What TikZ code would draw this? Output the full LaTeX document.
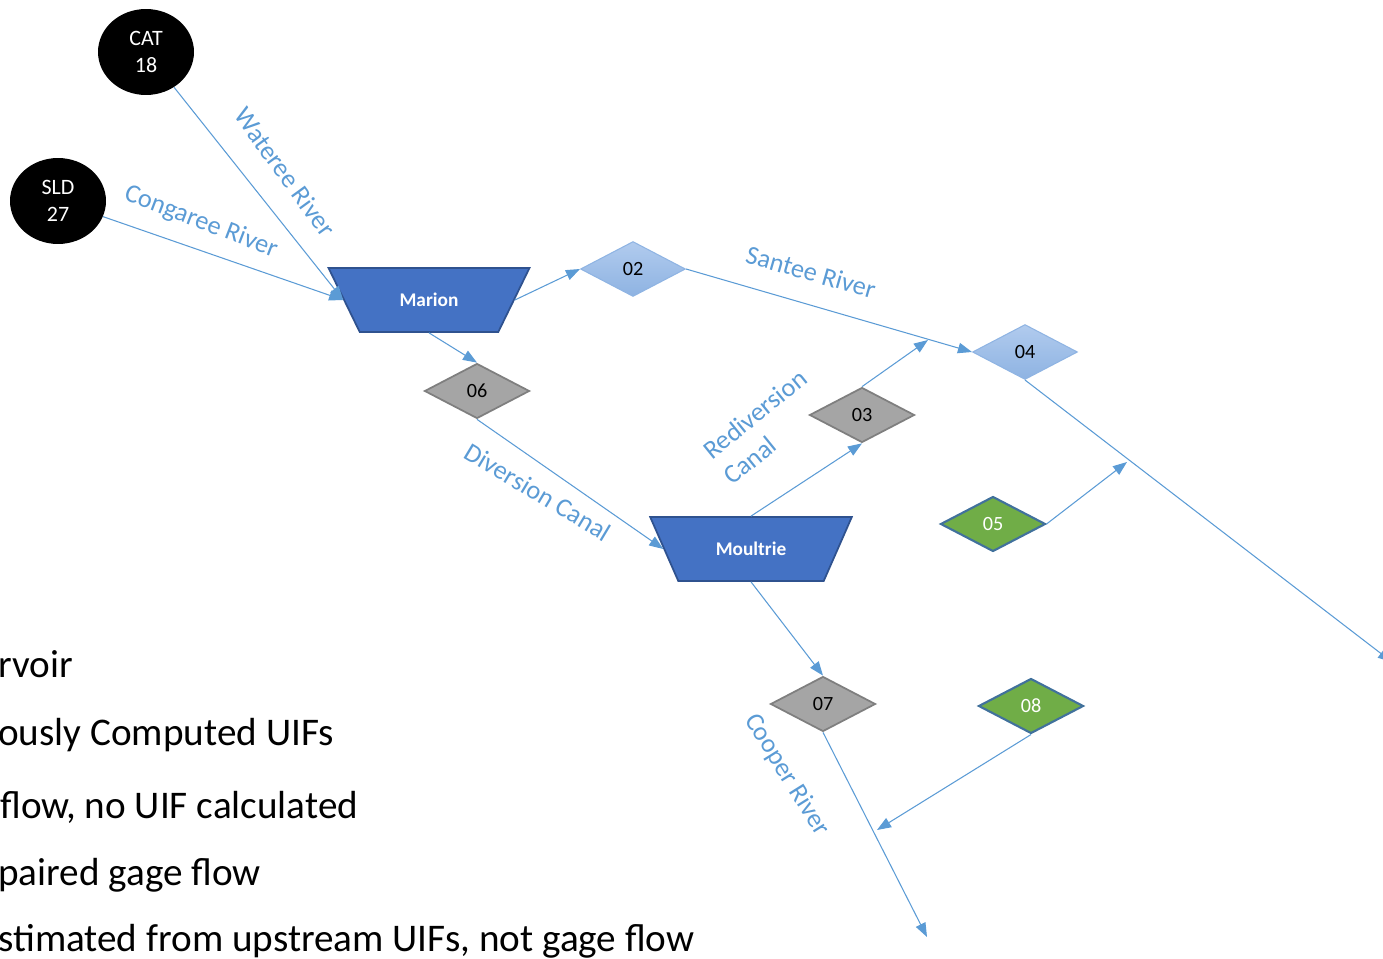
\documentclass[tikz,border=0pt]{standalone}
\usepackage{fontspec}
\setmainfont{Carlito}
\usetikzlibrary{shapes.geometric, arrows.meta}
\definecolor{riverblue}{HTML}{5B9BD5}
\definecolor{resfill}{HTML}{4472C4}
\definecolor{resedge}{HTML}{2F528F}
\definecolor{gagegray}{HTML}{A5A5A5}
\definecolor{gageedge}{HTML}{7F7F7F}
\definecolor{uifgreen}{HTML}{70AD47}
\definecolor{uifedge}{HTML}{41719C}
\definecolor{flowtop}{HTML}{B1CBEE}
\definecolor{flowbot}{HTML}{8EB3E2}
\definecolor{flowedge}{HTML}{8FB4E3}

\begin{document}
\begin{tikzpicture}[x=0.02cm, y=-0.02cm]
	\tikzstyle{source} = [ellipse, minimum width=1.92cm, minimum height=1.72cm, 
	fill=black, text=white, align=center, font=\fontsize{12.5pt}{15pt}\selectfont]
	\tikzstyle{reservoir} = [trapezium, trapezium left angle=122, trapezium right 
	angle=122, trapezium stretches=true, minimum width=4.04cm, minimum height=1.28cm, 
	fill=resfill, draw=resedge, line width=1pt, text=white, 
	font=\fontsize{11pt}{13pt}\selectfont\bfseries]
	\tikzstyle{gage} = [diamond, minimum width=2.1cm, minimum height=1.1cm, inner sep=0pt, 
	font=\fontsize{11.5pt}{13pt}\selectfont]
	\tikzstyle{computed} = [gage, top color=flowtop, bottom color=flowbot, draw=flowedge, line width=0.6pt]
	\tikzstyle{gaged} = [gage, fill=gagegray, draw=gageedge, line width=1pt]
	\tikzstyle{unimpaired} = [gage, fill=uifgreen, draw=uifedge, line width=1.2pt, text=white]
	\tikzstyle{river} = [text=riverblue, font=\fontsize{15pt}{18.5pt}\selectfont, inner sep=0pt]
	\tikzstyle{legend} = [anchor=base west, inner sep=0pt, font=\fontsize{22.3pt}{27pt}\selectfont]
	\tikzstyle{arrow} = [riverblue, line width=0.6pt, -{Triangle[length=8pt, width=6pt]}]
	\useasboundingbox (0,0) rectangle (1383,959);
	% sources
	\node (cat) [source] at (146,52) {CAT\\18};
	\node (sld) [source] at (58,201) {SLD\\27};
	% reservoirs
	\node (marion) [reservoir] at (429,300) {Marion};
	\node (moultrie) [reservoir] at (751,549) {Moultrie};
	% gages
	\node (g02) [computed] at (633,269) {02};
	\node (g04) [computed] at (1025,352) {04};
	\node (g06) [gaged] at (477,391) {06};
	\node (g03) [gaged] at (862,415) {03};
	\node (g07) [gaged] at (823,704) {07};
	\node (g05) [unimpaired] at (993,524) {05};
	\node (g08) [unimpaired] at (1031,706) {08};
	% free ends
	\coordinate (santeeJoin) at (928,340);
	\coordinate (santeeOut) at (1392,662);
	\coordinate (lowerJoin) at (1127,462);
	\coordinate (cooperJoin) at (877,830);
	\coordinate (cooperOut) at (927,937);
	% river labels
	\node (wateree) [river, rotate=-54] at (285,172) {Wateree River};
	\node (congaree) [river, rotate=-21] at (201,222) {Congaree River};
	\node (santee) [river, rotate=-16] at (811,272) {Santee River};
	\node (diversion) [river, rotate=-31] at (538,492) {Diversion Canal};
	\node (rediversion) [river, rotate=39, align=left] at (765,427) {Rediversion\\Canal};
	\node (cooper) [river, rotate=-58] at (787,775) {Cooper River};
	% legend
	\node (legend1) [legend] at (-2,677) {rvoir};
	\node (legend2) [legend] at (-2,745) {ously Computed UIFs};
	\node (legend3) [legend] at (0,818) {flow, no UIF calculated};
	\node (legend4) [legend] at (-2,885) {paired gage flow};
	\node (legend5) [legend] at (-2,951) {stimated from upstream UIFs, not gage flow};
	% connectors
	\draw [arrow] (cat) -- (marion.west);
	\draw [arrow] (sld) -- (marion.west);
	\draw [arrow] (marion.east) -- (g02.west);
	\draw [arrow] (marion.south) -- (g06.north);
	\draw [arrow] (g02.east) -- (g04.west);
	\draw [arrow] (g06.south) -- (moultrie.west);
	\draw [arrow] (moultrie.north) -- (g03.south);
	\draw [arrow] (g03.north) -- (santeeJoin);
	\draw [arrow] (g04.south) -- (santeeOut);
	\draw [arrow] (g05.east) -- (lowerJoin);
	\draw [arrow] (moultrie.south) -- (g07.north);
	\draw [arrow] (g07.south) -- (cooperOut);
	\draw [arrow] (g08.south) -- (cooperJoin);
\end{tikzpicture}
\end{document}
